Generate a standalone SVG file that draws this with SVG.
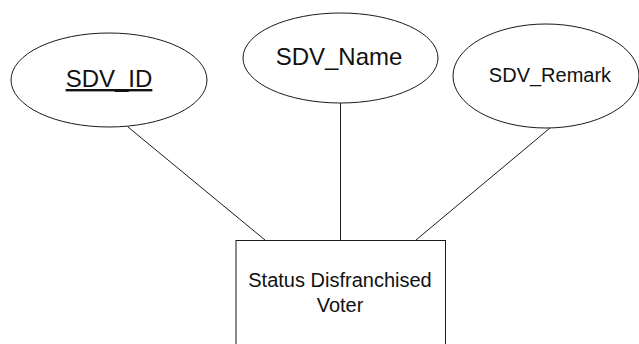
<svg xmlns="http://www.w3.org/2000/svg" width="639" height="344" viewBox="0 0 639 344">
<style>
.shape{fill:#ffffff;stroke:#1a1a1a;stroke-width:1}
.conn{stroke:#1a1a1a;stroke-width:1;fill:none}
.lbl{font-family:"Liberation Sans",Arial,sans-serif;fill:#111111;text-anchor:middle}
</style>
<rect width="639" height="344" fill="#ffffff"/>
<g id="connectors">
<line class="conn" x1="128" y1="127" x2="265" y2="240"/>
<line class="conn" x1="340.5" y1="103" x2="340.5" y2="240"/>
<line class="conn" x1="550" y1="128" x2="416" y2="240"/>
</g>
<g id="sdv_id">
<ellipse class="shape" cx="109" cy="80" rx="98" ry="47"/>
<text class="lbl" x="109" y="87" font-size="24" text-decoration="underline">SDV_ID</text>
</g>
<g id="sdv_name">
<ellipse class="shape" cx="340.5" cy="58" rx="97.5" ry="45"/>
<text class="lbl" x="339" y="65" font-size="24">SDV_Name</text>
</g>
<g id="sdv_remark">
<ellipse class="shape" cx="546" cy="76" rx="93" ry="52"/>
<text class="lbl" x="550" y="82" font-size="20">SDV_Remark</text>
</g>
<g id="status_disfranchised_voter">
<rect class="shape" x="236" y="240.5" width="209.5" height="120"/>
<text class="lbl" x="340" y="287" font-size="20">Status Disfranchised</text>
<text class="lbl" x="340" y="312" font-size="20">Voter</text>
</g>
</svg>
